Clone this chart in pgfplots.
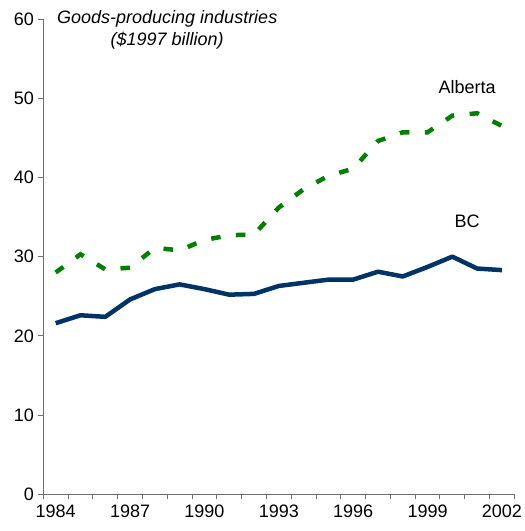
\documentclass[border=0pt]{standalone}
\usepackage{pgfplots}
\pgfplotsset{compat=1.18}
\usepackage{fontspec}
\setmainfont{Liberation Sans}
\definecolor{bcblue}{RGB}{0,51,102}
\definecolor{abgreen}{RGB}{0,128,0}
\definecolor{axisgray}{RGB}{110,110,110}
\begin{document}
\begin{tikzpicture}[x=1pt,y=1pt]
\begin{axis}[
  at={(0,0)}, anchor=south west,
  scale only axis,
  width=471pt, height=475.3pt,
  xmin=1983.5, xmax=2002.5,
  ymin=0, ymax=60,
  axis x line=bottom, axis y line=left,
  axis line style={draw=axisgray, line width=0.9pt, -},
  xtick={1984,1987,...,2002},
  minor xtick={1983.5,1984.5,...,2002.5},
  major x tick style={draw=none},
  minor x tick style={draw=axisgray, line width=0.9pt},
  ytick={0,10,...,60},
  y tick style={draw=axisgray, line width=0.9pt},
  tick align=outside,
  major tick length=5pt, minor tick length=5pt,
  xticklabel style={/pgf/number format/set thousands separator={}, yshift=-2pt},
  yticklabel style={xshift=-1pt},
  /pgf/number format/assume math mode=true,
  tick label style={font=\fontsize{18}{20}\selectfont},
  clip=false,
]
% BC
\addplot[color=bcblue, line width=4.5pt, line join=round] coordinates {
 (1984,21.6) (1985,22.6) (1986,22.4) (1987,24.6) (1988,25.9) (1989,26.5)
 (1990,25.9) (1991,25.2) (1992,25.3) (1993,26.3) (1994,26.7) (1995,27.1)
 (1996,27.1) (1997,28.1) (1998,27.5) (1999,28.7) (2000,30.0) (2001,28.5)
 (2002,28.3)
};
% Alberta
\addplot[color=abgreen, line width=4.5pt, dash pattern=on 9.5pt off 15.5pt] coordinates {
 (1984,28.0) (1985,30.3) (1986,28.4) (1987,28.6) (1988,31.1) (1989,30.8)
 (1990,32.1) (1991,32.7) (1992,32.8) (1993,36.2) (1994,38.5) (1995,40.2)
 (1996,41.1) (1997,44.6) (1998,45.7) (1999,45.7) (2000,47.8) (2001,48.1)
 (2002,46.5)
};
\node[font=\fontsize{18}{20}\selectfont] at (axis cs:2000.6,51.4) {Alberta};
\node[font=\fontsize{18}{20}\selectfont] at (axis cs:2000.6,34.5) {BC};
\node[font=\fontsize{18}{20}\selectfont\itshape, align=center] at (axis cs:1988.5,58.6)
  {Goods-producing industries\\[2pt](\$1997 billion)};
\end{axis}
\pgfresetboundingbox
\path[use as bounding box] (-43.3pt,-36.7pt) rectangle (481.7pt,494.3pt);
\end{tikzpicture}
\end{document}
